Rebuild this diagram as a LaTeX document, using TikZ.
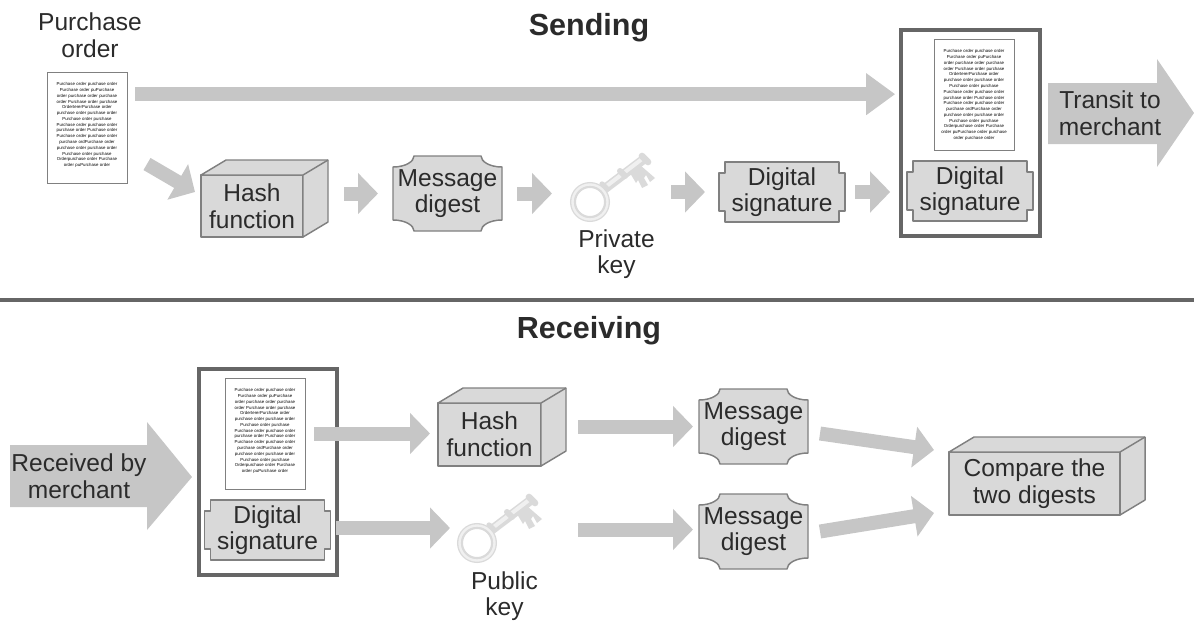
\documentclass[tikz,border=0pt]{standalone}
\usepackage{fontspec}
\setmainfont{Liberation Sans}
\usetikzlibrary{arrows.meta}
\usetikzlibrary{calc}
\definecolor{BoxGray}{HTML}{D9D9D9}
\definecolor{EdgeGray}{HTML}{808080}
\definecolor{FlowGray}{HTML}{C6C6C6}
\definecolor{FrameGray}{HTML}{666666}
\definecolor{InkGray}{HTML}{2B2B2B}
\definecolor{KeyDark}{HTML}{DADADA}
\definecolor{KeyLight}{HTML}{F0F0F0}

\tikzset{
	boxtext/.style={font=\fontsize{18.4}{20}\selectfont, text=InkGray, align=center, inner sep=0pt, outer sep=0pt},
	titletext/.style={boxtext, font=\fontsize{22.9}{26}\selectfont\bfseries},
	boxedge/.style={draw=EdgeGray, fill=BoxGray, line width=1.1pt, line join=round},
	hashnode/.style={boxtext, boxedge},
	framenode/.style={draw=FrameGray, line width=3pt, inner sep=0pt, outer sep=0pt, minimum width=104pt, minimum height=154.5pt},
	docnode/.style={draw=EdgeGray, fill=white, line width=0.7pt, inner sep=0pt, outer sep=0pt, minimum width=60pt, minimum height=83.25pt, text width=56pt, align=center, text=black, font=\fontsize{3.25}{4.34}\selectfont},
	keyring/.style={circle, draw=KeyDark, line width=4.5pt, inner sep=0pt, outer sep=0pt, minimum size=25.5pt},
	flow/.style={draw=FlowGray, line width=10.5pt, -{Triangle[length=15pt,width=30pt]}},
	flowlong/.style={flow, -{Triangle[length=21.75pt,width=30pt]}},
	bigflow/.style={fill=FlowGray}
}

\newcommand{\ordertext}{Purchase order purchase order\\
	Purchase order puPurchase\\
	order purchase order purchase\\
	order Purchase order purchase\\
	OrdertererPurchase order\\
	purchase order purchase order\\
	Purchase order purchase\\
	Purchase order purchase order\\
	purchase order Purchase order\\
	Purchase order purchase order\\
	purchase ordPurchase order\\
	purchase order purchase order\\
	Purchase order purchase\\
	Orderpurchase order Purchase}

\newcommand{\hashbox}[5]{
	\node[hashnode, minimum width=#4, minimum height=#5] (#1) at (#2) {#3};
	\draw[boxedge] (#1.north west) -- ++(25,-15) -- ($(#1.north east)+(25,-15)$) -- ($(#1.south east)+(25,-15)$) -- (#1.south east) -- (#1.north east) -- cycle;
	\draw[boxedge] (#1.north east) -- ($(#1.north east)+(25,-15)$);
}

\newcommand{\digestbox}[3]{
	\begin{scope}[shift={(#2)}]
		\draw[boxedge] (-54.5,-26.5) .. controls (-42,-26.5) and (-33.5,-32) .. (-33.5,-37.5) -- (33.5,-37.5)
			.. controls (33.5,-32) and (42,-26.5) .. (54.5,-26.5) -- (54.5,26.5)
			.. controls (42,26.5) and (33.5,32) .. (33.5,37.5) -- (-33.5,37.5)
			.. controls (-33.5,32) and (-42,26.5) .. (-54.5,26.5) -- cycle;
		\node[boxtext, minimum width=81.75pt, minimum height=56.25pt] (#1) at (0,0) {#3};
	\end{scope}
}

\newcommand{\signbox}[3]{
	\begin{scope}[shift={(#2)}]
		\draw[boxedge] (-63,-19) -- (-57,-19) -- (-57,-30) -- (57,-30) -- (57,-19) -- (63,-19)
			-- (63,19) -- (57,19) -- (57,30) -- (-57,30) -- (-57,19) -- (-63,19) -- cycle;
		\node[boxtext, minimum width=94.5pt, minimum height=45pt] (#1) at (0,0) {#3};
	\end{scope}
}

\newcommand{\keyicon}[2]{
	\begin{scope}[shift={(#2)}]
		\fill[KeyDark] (40,-29) -- (50,-37) -- (65,-24) -- (60,-20) -- (56,-27) -- (54,-24) -- (58,-17) -- (52,-14) -- (48,-22) -- (46,-19) -- cycle;
		\draw[KeyDark, line width=7pt] (13,-12) -- (54,-43);
		\draw[KeyLight, line width=3pt] (14,-14) -- (52,-43);
		\draw[KeyDark, line width=5pt, line cap=round] (52,-46) -- (58,-40);
		\draw[KeyDark, line width=4.5pt, line cap=round] (30,-31) -- (35,-26);
		\draw[KeyDark, line width=4pt, line cap=round] (12,-18) -- (17,-13);
		\node[keyring] (#1) at (0,0) {};
		\draw[KeyLight, line width=1.8pt] (0,0) circle (17.5);
	\end{scope}
}

\begin{document}
\begin{tikzpicture}[x=0.75pt, y=-0.75pt]
	\useasboundingbox (0,0) rectangle (1194,621);

	\node[titletext] (sending) at (589,28) {Sending};
	\node[boxtext] (orderlabel) at (90,35) {Purchase\\order};
	\node[docnode] (doc1) at (87,127.5) {\ordertext\\order puPurchase order\\\mbox{}};
	\hashbox{hash1}{252,206}{Hash\\function}{76.5pt}{46.5pt}
	\digestbox{digest1}{447.5,193.5}{Message\\digest}
	\keyicon{key1}{590,202}
	\node[boxtext] (privatelabel) at (616.5,254) {Private\\key};
	\signbox{sign1}{782,192}{Digital\\signature}
	\node[framenode] (frame1) at (970.5,133) {};
	\node[docnode] (doc2) at (974,95) {\ordertext\\order puPurchase order purchase\\order purchase order};
	\signbox{sign2}{970,191}{Digital\\signature}
	\fill[bigflow] (1048,83) -- (1157,83) -- (1157,59) -- (1194,113) -- (1157,167) -- (1157,144) -- (1048,144) -- cycle;
	\node[boxtext] (transit) at (1110,113) {Transit to\\merchant};

	\draw[flowlong, shorten <=6pt, shorten >=4.5pt] ([yshift=25pt]doc1.east) -- ([yshift=25pt]doc1.east -| frame1.west);
	\draw[flow] ($(doc1.south east)+(20,-19)$) -- ($(hash1.west)+(-6,-14)$);
	\draw[flow, shorten <=30.75pt, shorten >=11.25pt] (hash1.east |- digest1.west) -- (digest1.west);
	\draw[flow, shorten <=11.25pt, shorten >=15.75pt] (digest1.east) -- (digest1.east -| key1.west);
	\draw[flow, shorten <=48pt, shorten >=10.5pt] (sign1.west -| key1.east) -- (sign1.west);
	\draw[flow, shorten <=7.5pt, shorten >=8.25pt] (sign1.east) -- (sign1.east -| frame1.west);

	\draw[draw=FrameGray, line width=3pt] (0,300) -- (1194,300);

	\node[titletext] (receiving) at (589,331) {Receiving};
	\fill[bigflow] (10,445) -- (147,445) -- (147,422) -- (192,477) -- (147,530) -- (147,507) -- (10,507) -- cycle;
	\node[boxtext] (received) at (79,476) {Received by\\merchant};
	\node[framenode] (frame2) at (268,472) {};
	\node[docnode] (doc3) at (265,433.5) {\ordertext\\order puPurchase order\\\mbox{}};
	\signbox{sign3}{267.5,530}{Digital\\signature}
	\hashbox{hash2}{489.5,434.5}{Hash\\function}{77.25pt}{47.25pt}
	\keyicon{key2}{477,543}
	\node[boxtext] (publiclabel) at (504.5,596) {Public\\key};
	\digestbox{digest2}{753.5,426.5}{Message\\digest}
	\digestbox{digest3}{753.5,531.5}{Message\\digest}
	\hashbox{compare}{1034.5,483.5}{Compare the\\two digests}{128.25pt}{47.25pt}

	\draw[flow, shorten <=6.75pt, shorten >=6pt] (doc3.east) -- (doc3.east -| hash2.west);
	\draw[flow, shorten <=4pt, shorten >=7.5pt] ([yshift=1.5pt]sign3.east) -- ([yshift=1.5pt]sign3.east -| key2.west);
	\draw[flow, shorten <=27.75pt, shorten >=4.5pt] (hash2.east |- digest2.west) -- (digest2.west);
	\draw[flow, shorten <=63pt, shorten >=4.5pt] ([yshift=1.5pt]digest3.west -| key2.east) -- ([yshift=1.5pt]digest3.west);
	\draw[flow] ($(digest2.east)+(12,7)$) -- ($(compare.north west)+(-15,-2)$);
	\draw[flow] ($(digest3.east)+(12,0)$) -- ($(compare.south west)+(-15,-2)$);
\end{tikzpicture}
\end{document}
